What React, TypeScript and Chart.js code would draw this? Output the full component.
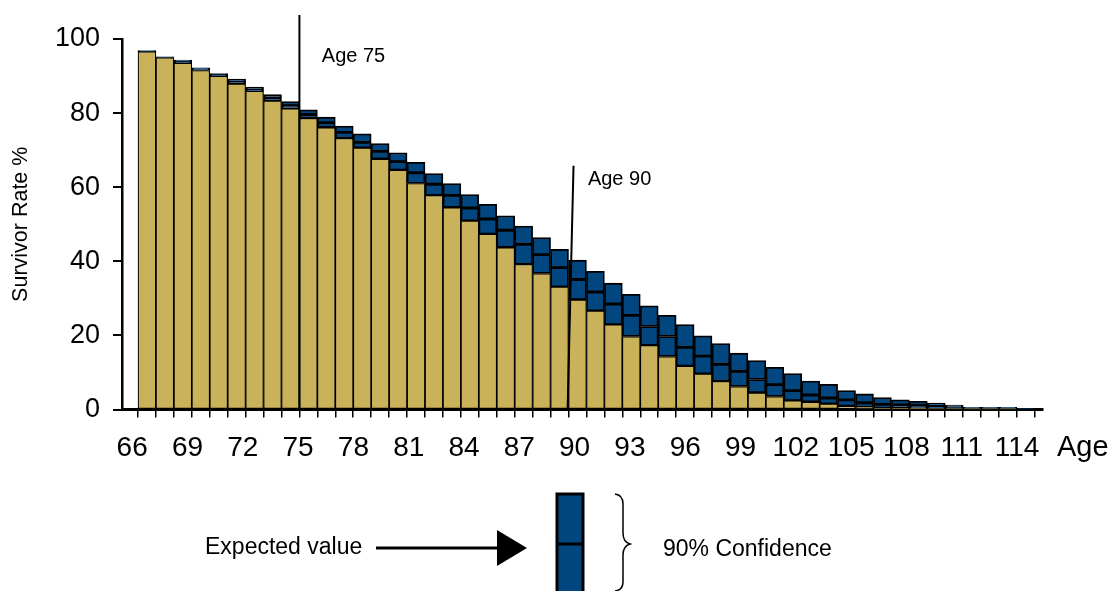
import React, { useEffect, useRef } from 'react';
import { Chart, registerables } from 'chart.js';

Chart.register(...registerables);

// ---- Data ----
const ages = [
  66, 67, 68, 69, 70, 71, 72, 73, 74, 75, 76, 77, 78, 79, 80, 81, 82, 83, 84, 85,
  86, 87, 88, 89, 90, 91, 92, 93, 94, 95, 96, 97, 98, 99, 100, 101, 102, 103, 104, 105,
  106, 107, 108, 109, 110, 111, 112, 113, 114, 115,
];
// lower bound of the 90% confidence band (gold part)
const lowerBound = [
  96.6, 95.0, 93.5, 91.5, 90.0, 87.9, 85.9, 83.3, 81.2, 78.6, 76.1, 73.2, 70.6, 67.6, 64.6, 61.0, 57.8, 54.5, 50.9, 47.3,
  43.7, 39.2, 36.7, 33.1, 29.6, 26.6, 22.9, 19.7, 17.3, 14.3, 11.7, 9.6, 7.6, 6.2, 4.5, 3.5, 2.4, 2.0, 1.5, 0.9,
  0.6, 0.3, 0.3, 0.2, 0.1, 0.1, 0.05, 0.05, 0.05, 0.0,
];
// expected value (line inside the blue band)
const expectedValue = [
  96.7, 95.1, 93.9, 91.9, 90.4, 88.5, 86.4, 84.1, 82.0, 79.6, 77.4, 74.8, 72.1, 69.7, 66.9, 63.9, 60.8, 57.8, 54.4, 51.4,
  48.4, 44.6, 41.8, 38.3, 35.1, 31.7, 28.5, 25.4, 22.4, 19.7, 16.8, 14.4, 12.2, 10.3, 8.1, 6.7, 5.1, 3.9, 3.1, 2.6,
  1.8, 1.4, 1.2, 1.1, 0.9, 0.6, 0.3, 0.3, 0.3, 0.1,
];
// upper bound of the 90% confidence band
const upperBound = [
  96.9, 95.2, 94.3, 92.2, 90.7, 89.2, 87.0, 85.0, 83.1, 80.9, 78.9, 76.5, 74.4, 71.8, 69.3, 66.7, 63.7, 61.0, 58.0, 55.4,
  52.3, 49.5, 46.4, 43.2, 40.3, 37.3, 34.1, 31.1, 28.0, 25.4, 22.9, 19.9, 17.8, 15.2, 13.2, 11.4, 9.7, 7.7, 6.8, 5.1,
  4.2, 3.2, 2.6, 2.2, 1.7, 1.2, 0.6, 0.6, 0.6, 0.2,
];
const xTickLabels = [66, 69, 72, 75, 78, 81, 84, 87, 90, 93, 96, 99, 102, 105, 108, 111, 114];
const yTickValues = [0, 20, 40, 60, 80, 100];

// marker annotations (in data units)
const markerLabels = ['Age 75', 'Age 90'];
const markerTopX = [74.5, 89.78];
const markerBottomX = [74.5, 89.45];
const markerTopY = [106.5, 65.8];
const markerLabelX = [75.75, 90.58];
const markerLabelY = [93.9, 60.5];

const axisTitleX = 'Age';
const axisTitleY = 'Survivor Rate %';
const legendExpected = 'Expected value';
const legendConfidence = '90% Confidence';

const GOLD = '#CAB25B';
const BLUE = '#01467F';
const FONT = '"Liberation Sans", Arial, Helvetica, sans-serif';

const drawingsPlugin = {
  id: 'drawings',
  afterDraw(chart: any) {
    const ctx = chart.ctx as CanvasRenderingContext2D;
    const xs = chart.scales.x;
    const ys = chart.scales.y;
    ctx.save();
    // marker lines and labels
    for (let i = 0; i < markerLabels.length; i++) {
      ctx.beginPath();
      ctx.moveTo(xs.getPixelForValue(markerTopX[i]), ys.getPixelForValue(markerTopY[i]));
      ctx.lineTo(xs.getPixelForValue(markerBottomX[i]), ys.getPixelForValue(0));
      ctx.lineWidth = 2;
      ctx.strokeStyle = '#000';
      ctx.stroke();
      ctx.font = `20px ${FONT}`;
      ctx.fillStyle = '#000';
      ctx.textAlign = 'left';
      ctx.textBaseline = 'alphabetic';
      ctx.fillText(markerLabels[i], xs.getPixelForValue(markerLabelX[i]), ys.getPixelForValue(markerLabelY[i]));
    }
    // "Age" axis word
    ctx.font = `29px ${FONT}`;
    ctx.fillText(axisTitleX, 1057, 456);

    // legend graphic
    ctx.font = `23px ${FONT}`;
    ctx.textBaseline = 'middle';
    ctx.fillText(legendExpected, 205, 548);
    ctx.beginPath();
    ctx.moveTo(376, 548);
    ctx.lineTo(500, 548);
    ctx.lineWidth = 3;
    ctx.stroke();
    ctx.beginPath();
    ctx.moveTo(497, 530);
    ctx.lineTo(527, 548);
    ctx.lineTo(497, 566);
    ctx.closePath();
    ctx.fill();
    // box
    ctx.fillStyle = BLUE;
    ctx.fillRect(557, 494, 26, 100);
    ctx.lineWidth = 3;
    ctx.strokeStyle = '#000';
    ctx.strokeRect(557, 494, 26, 100);
    ctx.beginPath();
    ctx.moveTo(557, 544);
    ctx.lineTo(583, 544);
    ctx.stroke();
    // brace
    ctx.lineWidth = 1.5;
    ctx.beginPath();
    ctx.moveTo(615, 494);
    ctx.quadraticCurveTo(623, 495, 623, 504);
    ctx.lineTo(623, 533);
    ctx.quadraticCurveTo(623, 542, 630, 544);
    ctx.quadraticCurveTo(623, 546, 623, 555);
    ctx.lineTo(623, 582);
    ctx.quadraticCurveTo(623, 590, 615, 591);
    ctx.stroke();
    ctx.fillStyle = '#000';
    ctx.fillText(legendConfidence, 663, 550);
    ctx.restore();
  },
};

export default function App() {
  const canvasRef = useRef<HTMLCanvasElement | null>(null);

  useEffect(() => {
    if (!canvasRef.current) return;
    const boundaries = ages.map((a) => a - 0.5).concat([ages[ages.length - 1] + 0.5]);
    const barStyle = {
      borderColor: '#000',
      borderSkipped: false as const,
      grouped: false,
      barPercentage: 1,
      categoryPercentage: 1,
    };
    const chart = new Chart(canvasRef.current, {
      type: 'bar',
      data: {
        datasets: [
          {
            label: 'Lower bound',
            data: ages.map((a, i) => ({ x: a, y: [0, lowerBound[i]] })),
            backgroundColor: GOLD,
            borderWidth: 1.2,
            ...barStyle,
          },
          {
            label: 'Lower band',
            data: ages.map((a, i) => ({ x: a, y: [lowerBound[i], expectedValue[i]] })),
            backgroundColor: BLUE,
            borderWidth: 1.8,
            ...barStyle,
          },
          {
            label: 'Upper band',
            data: ages.map((a, i) => ({ x: a, y: [expectedValue[i], upperBound[i]] })),
            backgroundColor: BLUE,
            borderWidth: 1.8,
            ...barStyle,
          },
        ] as any,
      },
      options: {
        animation: false,
        responsive: false,
        layout: { padding: { top: 39, right: 71, left: 0, bottom: 0 } },
        plugins: {
          legend: { display: false },
          tooltip: { enabled: false },
          title: { display: false },
        },
        scales: {
          x: {
            type: 'linear',
            position: 'bottom',
            weight: 0,
            min: 64.61,
            max: 115.95,
            bounds: 'data',
            offset: false,
            afterBuildTicks: (s: any) => {
              s.ticks = boundaries.map((v) => ({ value: v }));
            },
            ticks: { display: false, autoSkip: false },
            grid: {
              offset: false,
              drawOnChartArea: false,
              drawTicks: true,
              tickLength: 8,
              color: '#000',
              lineWidth: 1.5,
            },
            border: { display: true, color: '#000', width: 3 },
          },
          x2: {
            type: 'linear',
            position: 'bottom',
            weight: 1,
            min: 65.447,
            max: 115.41,
            offset: false,
            afterBuildTicks: (s: any) => {
              s.ticks = xTickLabels.map((v) => ({ value: v }));
            },
            ticks: {
              autoSkip: false,
              maxRotation: 0,
              padding: 14,
              color: '#000',
              font: { size: 28, family: FONT },
              callback: (v: any) => String(v),
            },
            grid: { display: false, drawTicks: false },
            border: { display: false },
            afterFit: (s: any) => {
              s.height = 173.5;
            },
          },
          y: {
            type: 'linear',
            min: 0,
            max: 100,
            afterBuildTicks: (s: any) => {
              s.ticks = yTickValues.map((v) => ({ value: v }));
            },
            ticks: {
              padding: 13,
              color: '#000',
              font: { size: 27, family: FONT },
            },
            grid: {
              drawOnChartArea: false,
              drawTicks: true,
              tickLength: 9,
              color: '#000',
              lineWidth: 2,
            },
            border: { display: true, color: '#000', width: 2.5 },
            title: {
              display: true,
              text: axisTitleY,
              color: '#000',
              font: { size: 21.5, family: FONT },
              padding: { top: 8, bottom: 0 },
            },
            afterFit: (s: any) => {
              s.width = 122;
            },
          },
        },
      } as any,
      plugins: [drawingsPlugin],
    });
    return () => chart.destroy();
  }, []);

  return (
    <div style={{ position: 'fixed', left: 0, top: 0, width: 1114, height: 591, background: '#fff' }}>
      <canvas ref={canvasRef} width={1114} height={591} style={{ display: 'block' }} />
    </div>
  );
}
